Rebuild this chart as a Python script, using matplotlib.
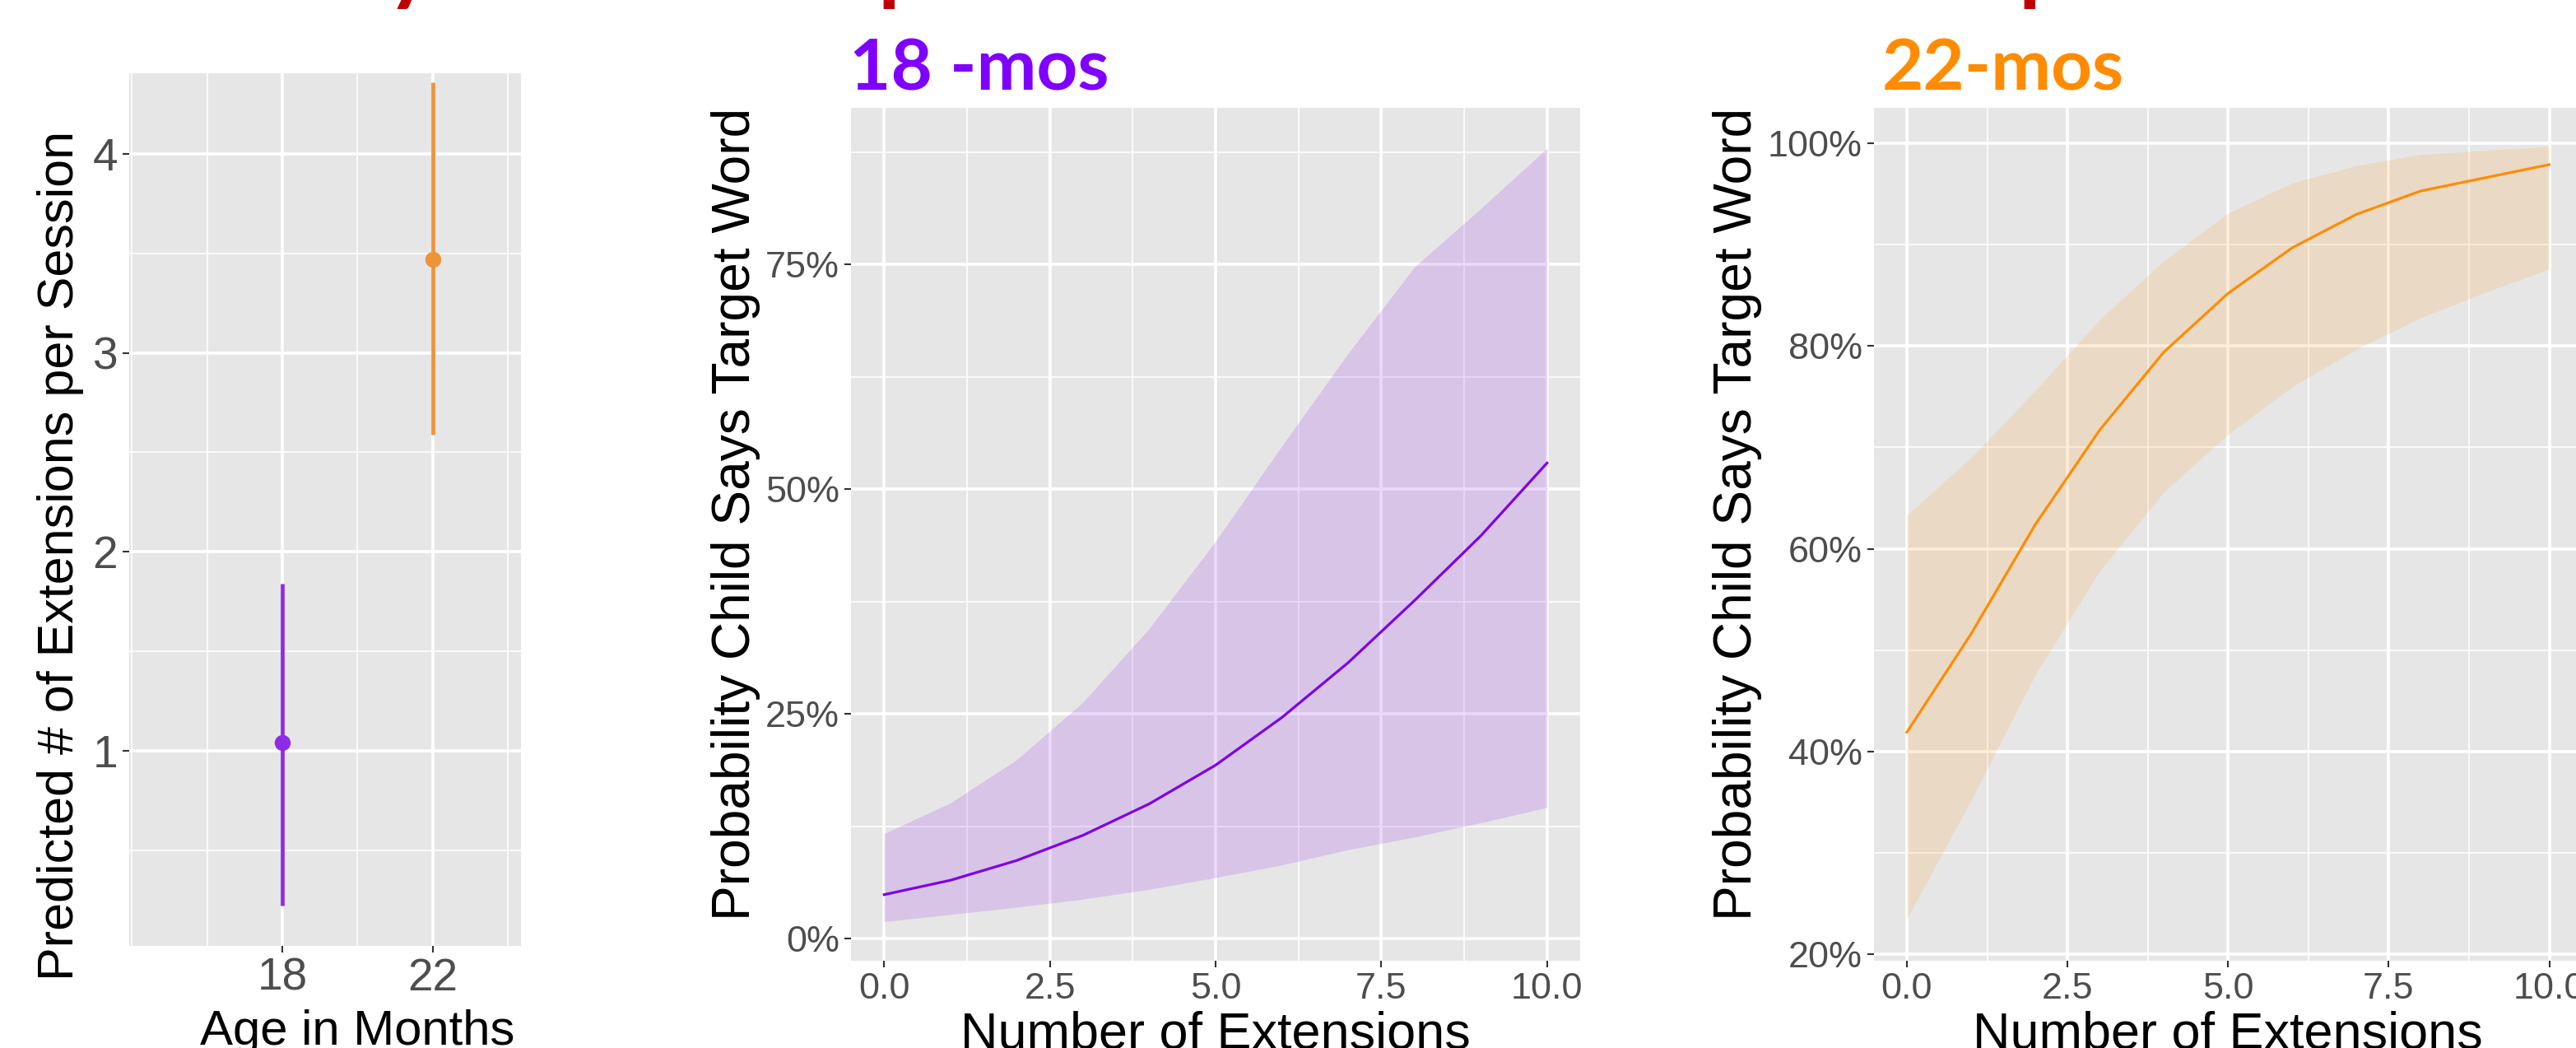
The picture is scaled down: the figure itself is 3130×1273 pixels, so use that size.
import matplotlib
matplotlib.use("Agg")
import matplotlib.pyplot as plt
from matplotlib.ticker import FuncFormatter

plt.rcParams['font.family'] = ['Liberation Sans', 'DejaVu Sans']

# --- data ---
ages = [18, 22]
age_colors = ['#8E2BE8', '#EF9338']
pred_ext = [1.04, 3.47]
pred_lo = [0.22, 2.59]
pred_hi = [1.84, 4.36]

n_ext = list(range(11))
p18 = [4.9, 6.5, 8.7, 11.5, 15.0, 19.3, 24.6, 30.7, 37.6, 44.8, 52.9]
p18_lo = [1.9, 2.7, 3.5, 4.4, 5.5, 6.8, 8.2, 9.9, 11.3, 12.9, 14.6]
p18_hi = [11.7, 15.1, 19.9, 26.3, 34.5, 44.2, 54.8, 65.1, 74.7, 81.2, 87.9]
p22 = [41.9, 51.6, 62.4, 71.7, 79.4, 85.2, 89.7, 93.0, 95.3, 96.6, 97.9]
p22_lo = [23.5, 35.2, 47.6, 57.8, 65.6, 71.3, 76.0, 79.7, 82.8, 85.3, 87.6]
p22_hi = [63.3, 69.0, 75.6, 82.6, 88.4, 93.1, 96.1, 97.8, 98.9, 99.3, 99.7]

x_ticks = [0, 2.5, 5, 7.5, 10]
x_ticklabels = ['0.0', '2.5', '5.0', '7.5', '10.0']

W, H = 3130, 1273
PX = 0.72  # points per pixel at dpi 100

BG = '#E6E6E6'
TICK_TXT = '#4D4D4D'


def box(l, t, r, b):
    return [l / W, 1 - b / H, (r - l) / W, (b - t) / H]


def gg_style(ax, tick_px):
    ax.set_facecolor(BG)
    for s in ax.spines.values():
        s.set_visible(False)
    ax.set_axisbelow(True)
    ax.grid(which='major', color='white', lw=2.6)
    ax.grid(which='minor', color='white', lw=1.2)
    ax.tick_params(which='major', length=6, width=1.5, color='#333333',
                   labelcolor=TICK_TXT, labelsize=tick_px * PX, pad=4)
    ax.tick_params(which='minor', length=0)


fig = plt.figure(figsize=(W / 100, H / 100), dpi=100)
fig.patch.set_facecolor('white')

# --- panel 1: predicted extensions per session ---
ax1 = fig.add_axes(box(157, 89, 633, 1149))
gg_style(ax1, 55)
for a, m, lo, hi, c in zip(ages, pred_ext, pred_lo, pred_hi, age_colors):
    ax1.vlines(a, lo, hi, color=c, lw=3.4, zorder=3)
    ax1.plot(a, m, 'o', color=c, ms=13, zorder=4)
ax1.set_xlim(13.93, 24.35)
ax1.set_ylim(0.019, 4.405)
ax1.set_xticks(ages)
ax1.set_xticks([14, 16, 20, 24], minor=True)
ax1.set_yticks([1, 2, 3, 4])
ax1.set_yticks([0.5, 1.5, 2.5, 3.5], minor=True)
ax1.set_ylabel('Predicted # of Extensions per Session', fontsize=61 * PX, color='black')
ax1.yaxis.set_label_coords(102 / W, 598 / H, transform=fig.transFigure)
fig.text(434 / W, 1 - 1269 / H, 'Age in Months', fontsize=60 * PX,
         ha='center', va='baseline', color='black')


def prob_panel(rect, xs, mid, lo, hi, line_c, fill_c, ylim, yt, ytm, ylab_x, xlim):
    ax = fig.add_axes(box(*rect))
    gg_style(ax, 45)
    ax.fill_between(xs, lo, hi, color=fill_c, alpha=0.2, lw=0, zorder=2)
    ax.plot(xs, mid, color=line_c, lw=2.3, zorder=3)
    ax.set_xlim(*xlim)
    ax.set_ylim(*ylim)
    ax.set_xticks(x_ticks)
    ax.set_xticklabels(x_ticklabels)
    ax.set_xticks([1.25, 3.75, 6.25, 8.75], minor=True)
    ax.set_yticks(yt)
    ax.set_yticks(ytm, minor=True)
    ax.yaxis.set_major_formatter(FuncFormatter(lambda v, p: f'{v:.0f}%'))
    ax.set_ylabel('Probability Child Says Target Word', fontsize=64 * PX, color='black')
    ax.yaxis.set_label_coords(ylab_x / W, 649 / H, transform=fig.transFigure)
    return ax


# --- panel 2: 18 months ---
prob_panel((1034, 131, 1920, 1167), n_ext, p18, p18_lo, p18_hi,
           '#7D00E8', '#A03CEB', (-2.45, 92.4), [0, 25, 50, 75],
           [12.5, 37.5, 62.5, 87.5], 924, (-0.5, 10.5))
fig.text(1477 / W, 1 - 1273 / H, 'Number of Extensions', fontsize=63 * PX,
         ha='center', va='baseline', color='black')

# --- panel 3: 22 months ---
prob_panel((2277, 131, 3130, 1167), n_ext, p22, p22_lo, p22_hi,
           '#FF8C00', '#FFA640', (19.35, 103.5), [20, 40, 60, 80, 100],
           [30, 50, 70, 90], 2141, (-0.512, 10.416))
fig.text(2707 / W, 1 - 1273 / H, 'Number of Extensions', fontsize=63 * PX,
         ha='center', va='baseline', color='black')

# --- panel titles ---
fig.text(1032 / W, 1 - 110 / H, '18 -mos', fontsize=87 * PX, fontweight='bold',
         family=['Lato', 'DejaVu Sans'], color='#7F00FF', ha='left', va='baseline')
fig.text(2287 / W, 1 - 110 / H, '22-mos', fontsize=87 * PX, fontweight='bold',
         family=['Lato', 'DejaVu Sans'], color='#FF8C00', ha='left', va='baseline')

# --- slide title cut off at the top edge (only descenders visible) ---
for x, ch in [(470, 'y'), (1066, 'p'), (2452, 'p')]:
    fig.text(x / W, 1 + 7 / H, ch, fontsize=108 * PX, fontweight='bold',
             family=['Lato', 'DejaVu Sans'], color='#C00000', ha='left', va='baseline')

fig.savefig('out.png', dpi=100, facecolor='white')
